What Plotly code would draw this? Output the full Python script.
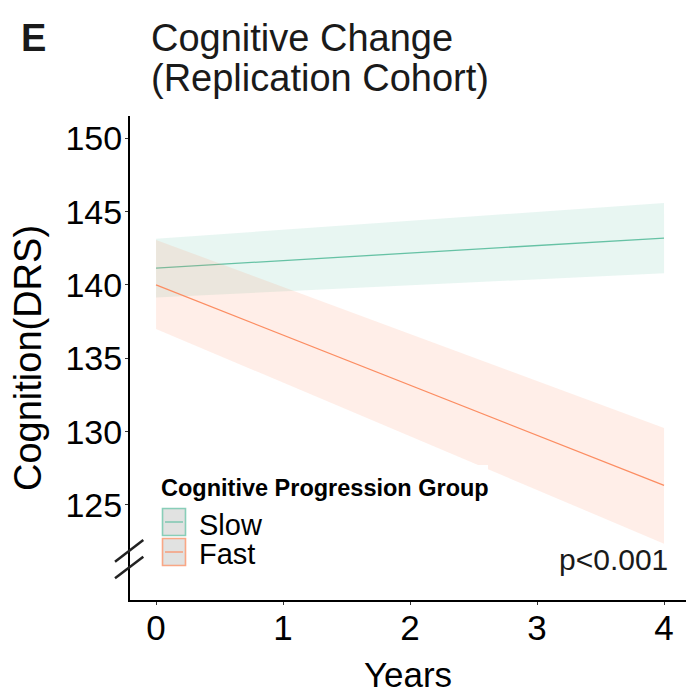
import plotly.graph_objects as go

# ---- data ----
years = [0, 1, 2, 3, 4]
groups = ["Slow", "Fast"]

slow_fit = [141.15, 141.66, 142.17, 142.69, 143.20]
slow_upper = [143.15, 143.76, 144.37, 144.98, 145.59]
slow_lower = [139.15, 139.56, 139.97, 140.39, 140.80]

fast_fit = [140.00, 136.58, 133.17, 129.75, 126.33]
fast_upper = [143.07, 139.86, 136.66, 133.45, 130.24]
fast_lower = [137.00, 133.34, 129.68, 126.02, 122.36]

y_ticks = [125, 130, 135, 140, 145, 150]
x_ticks = [0, 1, 2, 3, 4]
p_label = "p<0.001"

series = {
    "Slow": dict(fit=slow_fit, up=slow_upper, lo=slow_lower,
                 line="#66C2A5", fill="rgba(102,194,165,0.15)",
                 border="rgba(102,194,165,0.75)"),
    "Fast": dict(fit=fast_fit, up=fast_upper, lo=fast_lower,
                 line="#FC8D62", fill="rgba(252,141,98,0.15)",
                 border="rgba(252,141,98,0.75)"),
}

FONT = "Liberation Sans, Arial, sans-serif"

fig = go.Figure()
for g in groups:
    s = series[g]
    fig.add_trace(go.Scatter(
        x=years + years[::-1], y=s["up"] + s["lo"][::-1],
        fill="toself", fillcolor=s["fill"], line=dict(width=0),
        mode="lines", hoverinfo="skip", showlegend=False, name=g + " CI"))
    fig.add_trace(go.Scatter(
        x=years, y=s["fit"], mode="lines",
        line=dict(color=s["line"], width=1.3), showlegend=False, name=g))

# plot area geometry (px)
W, H = 686, 694
L, R, T, B = 130, 0, 116, 94
pw, ph = W - L - R, H - T - B


def px(xp):
    return (xp - L) / pw


def py(yp):
    return (H - B - yp) / ph


shapes = []
annotations = []

# legend background (white, covers ribbon like the reference)
shapes.append(dict(type="rect", xref="paper", yref="paper",
                   x0=px(150), x1=px(488), y0=py(575), y1=py(465),
                   fillcolor="white", line=dict(width=0), layer="above"))

# legend keys
key_tops = {"Slow": 508, "Fast": 538}
label_centers = {"Slow": 525, "Fast": 554}
for g in groups:
    s = series[g]
    t = key_tops[g]
    shapes.append(dict(type="rect", xref="paper", yref="paper",
                       x0=px(162.5), x1=px(185.5), y0=py(t + 27.5), y1=py(t + 0.5),
                       fillcolor="#E1E2E1", line=dict(color=s["border"], width=1.6),
                       layer="above"))
    shapes.append(dict(type="line", xref="paper", yref="paper",
                       x0=px(165), x1=px(183), y0=py(t + 14), y1=py(t + 14),
                       line=dict(color=s["line"], width=1.2), layer="above"))
    annotations.append(dict(text=g, xref="paper", yref="paper",
                            x=px(197), y=py(label_centers[g]),
                            xanchor="left", yanchor="middle", showarrow=False,
                            font=dict(family=FONT, size=29, color="#000000")))

annotations.append(dict(text="<b>Cognitive Progression Group</b>", xref="paper", yref="paper",
                        x=px(159), y=py(487.5), xanchor="left", yanchor="middle",
                        showarrow=False, font=dict(family=FONT, size=23.5, color="#000000")))

# axis break marks
for (x0, y0, x1, y1) in [(115, 561.7, 143.3, 540.0), (115, 578.3, 143.3, 556.7)]:
    shapes.append(dict(type="line", xref="paper", yref="paper",
                       x0=px(x0), y0=py(y0), x1=px(x1), y1=py(y1),
                       line=dict(color="#222222", width=2.5)))

# titles
annotations.append(dict(text="<b>E</b>", xref="paper", yref="paper",
                        x=px(33), y=py(37.5), xanchor="center", yanchor="middle",
                        showarrow=False, font=dict(family=FONT, size=38, color="#1a1a1a")))
annotations.append(dict(text="Cognitive Change", xref="paper", yref="paper",
                        x=px(149), y=py(38.5), xanchor="left", yanchor="middle",
                        showarrow=False, font=dict(family=FONT, size=38, color="#1a1a1a")))
annotations.append(dict(text="(Replication Cohort)", xref="paper", yref="paper",
                        x=px(149), y=py(78), xanchor="left", yanchor="middle",
                        showarrow=False, font=dict(family=FONT, size=38, color="#1a1a1a")))

# p value
annotations.append(dict(text=p_label, xref="paper", yref="paper",
                        x=px(670), y=py(559.5), xanchor="right", yanchor="middle",
                        showarrow=False, font=dict(family=FONT, size=30, color="#1a1a1a")))

fig.update_layout(
    width=W, height=H,
    margin=dict(l=L, r=R, t=T, b=B, pad=0),
    paper_bgcolor="white", plot_bgcolor="white",
    showlegend=False,
    font=dict(family=FONT, color="#000000"),
    shapes=shapes, annotations=annotations,
    xaxis=dict(range=[-0.205, 4.173], tickmode="array", tickvals=x_ticks,
               ticktext=[str(v) for v in x_ticks],
               showgrid=False, zeroline=False, showline=True, linecolor="#000000",
               linewidth=2, ticks="outside", ticklen=3, tickwidth=1, tickcolor="#333333",
               ticklabelstandoff=-7,
               tickfont=dict(family=FONT, size=35, color="#000000"),
               title=dict(text="Years", font=dict(family=FONT, size=35, color="#000000"),
                          standoff=16),
               automargin=False, fixedrange=True),
    yaxis=dict(range=[118.52, 151.52], tickmode="array", tickvals=y_ticks,
               ticktext=[str(v) for v in y_ticks],
               showgrid=False, zeroline=False, showline=True, linecolor="#000000",
               linewidth=2, ticks="outside", ticklen=3, tickwidth=1, tickcolor="#333333",
               ticklabelstandoff=-4,
               tickfont=dict(family=FONT, size=34, color="#000000"),
               title=dict(text="Cognition(DRS)", font=dict(family=FONT, size=38, color="#000000"),
                          standoff=12),
               automargin=False, fixedrange=True),
)

fig.write_html("out.html", config={"displayModeBar": False},
               post_script="document.body.style.margin='0';")
